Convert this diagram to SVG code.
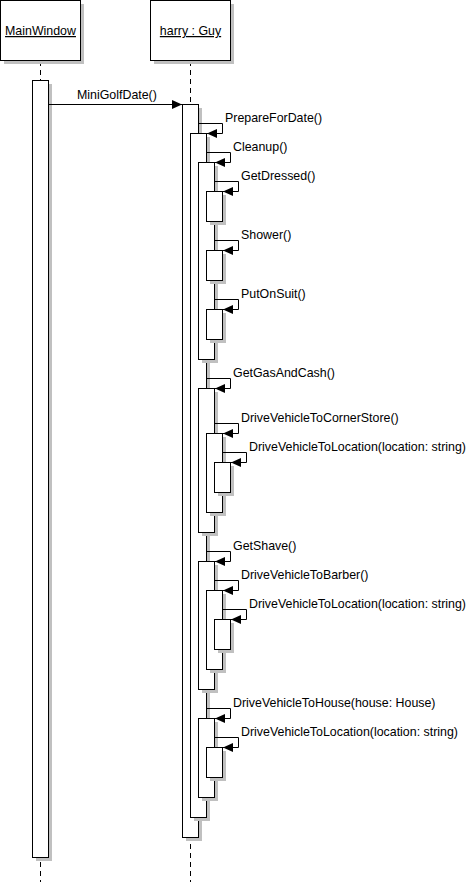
<svg xmlns="http://www.w3.org/2000/svg" width="471" height="882" viewBox="0 0 471 882">
<style>
.sh{fill:#c0c0c0;stroke:none}
.bx{fill:#fff;stroke:#000;stroke-width:1}
.ll{stroke:#000;stroke-width:1;stroke-dasharray:5,4;fill:none}
.t{font-family:'Liberation Sans',Arial,sans-serif;font-size:12.4px;fill:#000}
.hd{text-decoration:underline;text-anchor:middle}
.msg{fill:none;stroke:#000;stroke-width:1;marker-end:url(#ah)}
</style>
<defs>
<marker id="ah" markerUnits="userSpaceOnUse" markerWidth="10" markerHeight="10" refX="10" refY="4.5" orient="auto" viewBox="0 0 10 9">
<path d="M0,0 L10,4.5 L0,9 z" fill="#000"/>
</marker>
</defs>
<rect width="471" height="882" fill="#fff"/>
<g id="lifelines">
<line class="ll" x1="40.5" y1="61" x2="40.5" y2="882"/>
<line class="ll" x1="190.5" y1="61" x2="190.5" y2="882"/>
</g>
<g id="MainWindow">
<rect class="sh" x="4" y="4" width="80" height="60"/>
<rect class="bx" x="0.5" y="0.5" width="80" height="60"/>
<text class="t hd" x="40.5" y="35">MainWindow</text>
</g>
<g id="harry">
<rect class="sh" x="154" y="4" width="80" height="60"/>
<rect class="bx" x="150.5" y="0.5" width="80" height="60"/>
<text class="t hd" x="190.5" y="35">harry : Guy</text>
</g>
<g id="act-mainwindow">
<rect class="sh" x="36" y="84" width="16" height="777"/>
<rect class="bx" x="32.5" y="80.5" width="16" height="777"/>
</g>
<g id="act-minigolfdate">
<rect class="sh" x="186" y="108" width="16" height="733"/>
<rect class="bx" x="182.5" y="104.5" width="16" height="733"/>
</g>
<g id="act-preparefordate">
<rect class="sh" x="194" y="137" width="16" height="684"/>
<rect class="bx" x="190.5" y="133.5" width="16" height="684"/>
</g>
<g id="act-cleanup">
<rect class="sh" x="202" y="166" width="16" height="197"/>
<rect class="bx" x="198.5" y="162.5" width="16" height="197"/>
</g>
<g id="act-getdressed">
<rect class="sh" x="210" y="195" width="16" height="30"/>
<rect class="bx" x="206.5" y="191.5" width="16" height="30"/>
</g>
<g id="act-shower">
<rect class="sh" x="210" y="254" width="16" height="30"/>
<rect class="bx" x="206.5" y="250.5" width="16" height="30"/>
</g>
<g id="act-putonsuit">
<rect class="sh" x="210" y="313" width="16" height="30"/>
<rect class="bx" x="206.5" y="309.5" width="16" height="30"/>
</g>
<g id="act-getgasandcash">
<rect class="sh" x="202" y="392" width="16" height="144"/>
<rect class="bx" x="198.5" y="388.5" width="16" height="144"/>
</g>
<g id="act-cornerstore">
<rect class="sh" x="210" y="437" width="16" height="79"/>
<rect class="bx" x="206.5" y="433.5" width="16" height="79"/>
</g>
<g id="act-location1">
<rect class="sh" x="218" y="466" width="16" height="30"/>
<rect class="bx" x="214.5" y="462.5" width="16" height="30"/>
</g>
<g id="act-getshave">
<rect class="sh" x="202" y="565" width="16" height="128"/>
<rect class="bx" x="198.5" y="561.5" width="16" height="128"/>
</g>
<g id="act-barber">
<rect class="sh" x="210" y="594" width="16" height="79"/>
<rect class="bx" x="206.5" y="590.5" width="16" height="79"/>
</g>
<g id="act-location2">
<rect class="sh" x="218" y="623" width="16" height="30"/>
<rect class="bx" x="214.5" y="619.5" width="16" height="30"/>
</g>
<g id="act-house">
<rect class="sh" x="202" y="722" width="16" height="79"/>
<rect class="bx" x="198.5" y="718.5" width="16" height="79"/>
</g>
<g id="act-location3">
<rect class="sh" x="210" y="751" width="16" height="30"/>
<rect class="bx" x="206.5" y="747.5" width="16" height="30"/>
</g>
<g id="connectors">
<polyline class="msg" points="48.5,104.5 182,104.5"/>
<text class="t" x="77" y="98.5">MiniGolfDate()</text>
<polyline class="msg" points="198.5,123.5 222.5,123.5 222.5,133.5 207,133.5"/>
<text class="t" x="225" y="122">PrepareForDate()</text>
<polyline class="msg" points="206.5,152.5 230.5,152.5 230.5,162.5 215,162.5"/>
<text class="t" x="233" y="151">Cleanup()</text>
<polyline class="msg" points="214.5,181.5 238.5,181.5 238.5,191.5 223,191.5"/>
<text class="t" x="241" y="180">GetDressed()</text>
<polyline class="msg" points="214.5,240.5 238.5,240.5 238.5,250.5 223,250.5"/>
<text class="t" x="241" y="239">Shower()</text>
<polyline class="msg" points="214.5,299.5 238.5,299.5 238.5,309.5 223,309.5"/>
<text class="t" x="241" y="298">PutOnSuit()</text>
<polyline class="msg" points="206.5,378.5 230.5,378.5 230.5,388.5 215,388.5"/>
<text class="t" x="233" y="377">GetGasAndCash()</text>
<polyline class="msg" points="214.5,423.5 238.5,423.5 238.5,433.5 223,433.5"/>
<text class="t" x="241" y="422">DriveVehicleToCornerStore()</text>
<polyline class="msg" points="222.5,452.5 246.5,452.5 246.5,462.5 231,462.5"/>
<text class="t" x="249" y="451">DriveVehicleToLocation(location: string)</text>
<polyline class="msg" points="206.5,551.5 230.5,551.5 230.5,561.5 215,561.5"/>
<text class="t" x="233" y="550">GetShave()</text>
<polyline class="msg" points="214.5,580.5 238.5,580.5 238.5,590.5 223,590.5"/>
<text class="t" x="241" y="579">DriveVehicleToBarber()</text>
<polyline class="msg" points="222.5,609.5 246.5,609.5 246.5,619.5 231,619.5"/>
<text class="t" x="249" y="608">DriveVehicleToLocation(location: string)</text>
<polyline class="msg" points="206.5,708.5 230.5,708.5 230.5,718.5 215,718.5"/>
<text class="t" x="233" y="707">DriveVehicleToHouse(house: House)</text>
<polyline class="msg" points="214.5,737.5 238.5,737.5 238.5,747.5 223,747.5"/>
<text class="t" x="241" y="736">DriveVehicleToLocation(location: string)</text>
</g>
</svg>
